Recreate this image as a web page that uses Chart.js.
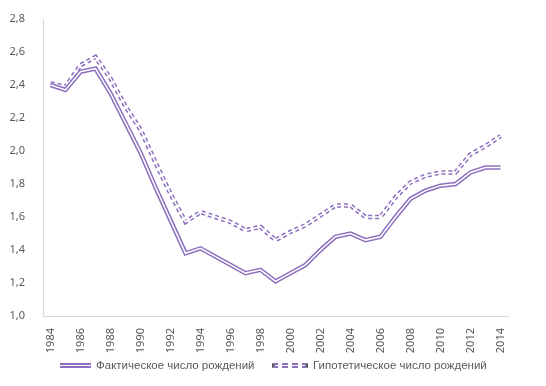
<!DOCTYPE html>
<html>
<head>
<meta charset="utf-8">
<script src="https://cdn.jsdelivr.net/npm/chart.js@4"></script>
<style>
  body { margin: 0; background: #fff; }
  #wrap { position: relative; width: 546px; height: 386px; }
  .legend { position: absolute; top: 359px; font: 11.5px "Liberation Sans", sans-serif; color: #595959; white-space: nowrap; }
  .mark { display: inline-block; width: 31px; height: 1px; vertical-align: middle; margin-right: 5px;
          border-top: 2px solid #8c6fbf; border-bottom: 2px solid #8c6fbf; }
  .mark.dash { border-style: dashed; width: 30px; }
</style>
</head>
<body>
<div id="wrap">
  <canvas id="chart_line" width="546" height="386"></canvas>
  <div class="legend" style="left:60px"><span class="mark"></span>Фактическое число рождений</div>
  <div class="legend" style="left:272px"><span class="mark dash"></span>Гипотетическое число рождений</div>
</div>
<script>
// years on x axis
const years = [];
for (let y = 1984; y <= 2014; y++) years.push(String(y));

const actual = [2.40, 2.37, 2.48, 2.50, 2.35, 2.17, 1.99, 1.78, 1.58, 1.38,
                1.41, 1.36, 1.31, 1.26, 1.28, 1.21, 1.26, 1.31, 1.40, 1.48,
                1.50, 1.46, 1.48, 1.60, 1.71, 1.76, 1.79, 1.80, 1.87, 1.90, 1.90];
const hypothetical = [2.41, 2.39, 2.52, 2.57, 2.44, 2.27, 2.13, 1.93, 1.74, 1.57,
                      1.63, 1.60, 1.57, 1.52, 1.54, 1.46, 1.51, 1.55, 1.61, 1.67,
                      1.67, 1.60, 1.60, 1.72, 1.81, 1.85, 1.87, 1.87, 1.98, 2.03, 2.09];

const purple = '#8c6fbf';
const labelFont = { family: 'Noto Sans', size: 11 };

// double line = wide purple line + thin white line on top
function doubleLine(data, dashed, order) {
    return [
        { data: data, borderColor: '#ffffff', borderWidth: 1.5, order: order },
        { data: data, borderColor: purple, borderWidth: 4.5, borderDash: dashed ? [4, 3] : [], order: order + 1 }
    ];
}

new Chart(document.querySelector('#chart_line'), {
    type: 'line',
    data: {
        labels: years,
        datasets: [...doubleLine(actual, false, 1), ...doubleLine(hypothetical, true, 3)]
    },
    options: {
        responsive: false,
        animation: false,
        events: [],
        elements: { point: { radius: 0 }, line: { tension: 0, borderCapStyle: 'butt', borderJoinStyle: 'miter' } },
        layout: { padding: { left: 0, right: 38, top: 19, bottom: 0 } },
        plugins: { legend: { display: false }, tooltip: { enabled: false } },
        scales: {
            x: {
                type: 'category',
                offset: true,
                grid: { display: false },
                border: { display: true, color: '#d9d9d9' },
                afterFit: s => { s.height = 70; },
                ticks: {
                    autoSkip: false,
                    maxRotation: 90,
                    minRotation: 90,
                    padding: 4,
                    color: '#595959',
                    font: labelFont,
                    callback: function (v, i) { return i % 2 === 0 ? this.getLabelForValue(v) : ''; }
                }
            },
            y: {
                min: 1.0,
                max: 2.8,
                grid: { display: false },
                border: { display: true, color: '#d9d9d9' },
                afterFit: s => { s.width = 43; },
                ticks: {
                    stepSize: 0.2,
                    padding: 10,
                    color: '#595959',
                    font: labelFont,
                    callback: v => v.toFixed(1).replace('.', ',')
                }
            }
        }
    }
});
</script>
</body>
</html>
